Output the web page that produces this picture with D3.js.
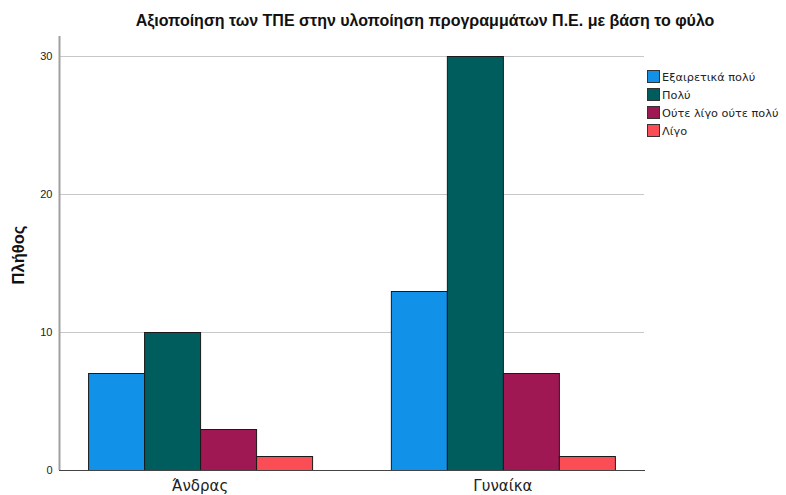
<!doctype html>
<html>
<head>
	<meta charset="utf-8">
	<title>Αξιοποίηση των ΤΠΕ</title>
	<script src="https://cdnjs.cloudflare.com/ajax/libs/d3/7.8.5/d3.min.js"></script>
	<style>
		body { margin: 0; background: #fff; }
		text { font-family: Arial, "Liberation Sans", sans-serif; }
	</style>
</head>
<body>
	<script>
		// data
		var genders = ['Άνδρας', 'Γυναίκα'];
		var levels = ['Εξαιρετικά πολύ', 'Πολύ', 'Ούτε λίγο ούτε πολύ', 'Λίγο'];
		var colors = ['#1192e8', '#005d5d', '#9f1853', '#fa4d56'];
		var counts = [
			[7, 10, 3, 1],   // Άνδρας
			[13, 30, 7, 1]   // Γυναίκα
		];
		var yTicks = [0, 10, 20, 30];

		var width = 786, height = 495;
		var plot = { left: 59, right: 644, top: 56, bottom: 470 };

		var svg = d3.select('body').append('svg')
			.attr('width', width)
			.attr('height', height);

		var x = d3.scaleBand()
			.domain(genders)
			.range([plot.left, plot.right])
			.paddingInner(0.26)
			.paddingOuter(0.096);

		var xs = d3.scaleBand()
			.domain(levels)
			.range([0, x.bandwidth()]);

		var y = d3.scaleLinear()
			.domain([0, 30])
			.range([plot.bottom, plot.top]);

		// gridlines
		svg.append('g')
			.selectAll('line')
			.data(yTicks.slice(1))
			.enter()
			.append('line')
			.attr('x1', plot.left)
			.attr('x2', plot.right)
			.attr('y1', function (d) { return Math.round(y(d)) + 0.5; })
			.attr('y2', function (d) { return Math.round(y(d)) + 0.5; })
			.attr('stroke', '#c8c8c8')
			.attr('stroke-width', 1);

		// bars
		var groups = svg.append('g')
			.selectAll('g')
			.data(counts)
			.enter()
			.append('g')
			.attr('transform', function (d, i) { return 'translate(' + x(genders[i]) + ',0)'; });

		groups.selectAll('rect')
			.data(function (d) { return d; })
			.enter()
			.append('rect')
			.attr('x', function (d, i) { return Math.round(xs(levels[i])) + 0.5; })
			.attr('y', function (d) { return Math.round(y(d)) + 0.5; })
			.attr('width', xs.bandwidth())
			.attr('height', function (d) { return Math.round(y(0)) - Math.round(y(d)); })
			.attr('fill', function (d, i) { return colors[i]; })
			.attr('stroke', '#1a1a1a')
			.attr('stroke-width', 1);

		// y axis
		var yAxis = svg.append('g')
			.attr('transform', 'translate(' + (plot.left + 0.5) + ',0)')
			.call(d3.axisLeft(y).tickValues(yTicks).tickSize(0).tickPadding(7).tickFormat(d3.format('d')));
		yAxis.select('.domain').attr('stroke', '#a0a0a0').attr('stroke-width', 2)
			.attr('d', 'M0,' + (plot.top - 20) + 'V' + plot.bottom);
		yAxis.selectAll('text').attr('font-size', 11).attr('fill', '#222');

		// x axis
		var xAxis = svg.append('g')
			.attr('transform', 'translate(0,' + (plot.bottom + 0.5) + ')')
			.call(d3.axisBottom(x).tickSize(0).tickPadding(10));
		xAxis.select('.domain').attr('stroke', '#444').attr('stroke-width', 1)
			.attr('d', 'M' + plot.left + ',0H' + (plot.right + 1));
		xAxis.selectAll('text').attr('font-size', 15).attr('fill', '#222')
			.style('font-family', 'Tahoma, "DejaVu Sans", sans-serif');

		// title
		svg.append('text')
			.attr('x', 425)
			.attr('y', 26)
			.attr('text-anchor', 'middle')
			.attr('font-size', 16)
			.attr('font-weight', 'bold')
			.attr('fill', '#111')
			.text('Αξιοποίηση των ΤΠΕ στην υλοποίηση προγραμμάτων Π.Ε. με βάση το φύλο');

		// y label
		svg.append('text')
			.attr('transform', 'translate(24,255) rotate(-90)')
			.attr('text-anchor', 'middle')
			.attr('font-size', 16.5)
			.attr('font-weight', 'bold')
			.attr('fill', '#111')
			.text('Πλήθος');

		// legend
		var legend = svg.append('g')
			.attr('transform', 'translate(647,70)')
			.selectAll('g')
			.data(levels)
			.enter()
			.append('g')
			.attr('transform', function (d, i) { return 'translate(0,' + (i * 18) + ')'; });

		legend.append('rect')
			.attr('x', 0.5)
			.attr('y', 0.5)
			.attr('width', 12)
			.attr('height', 12)
			.attr('fill', function (d, i) { return colors[i]; })
			.attr('stroke', '#333');

		legend.append('text')
			.attr('x', 15)
			.attr('y', 11)
			.attr('font-size', 11.3)
			.attr('fill', '#222')
			.style('font-family', 'Tahoma, "DejaVu Sans", sans-serif')
			.text(function (d) { return d; });
	</script>
</body>
</html>
